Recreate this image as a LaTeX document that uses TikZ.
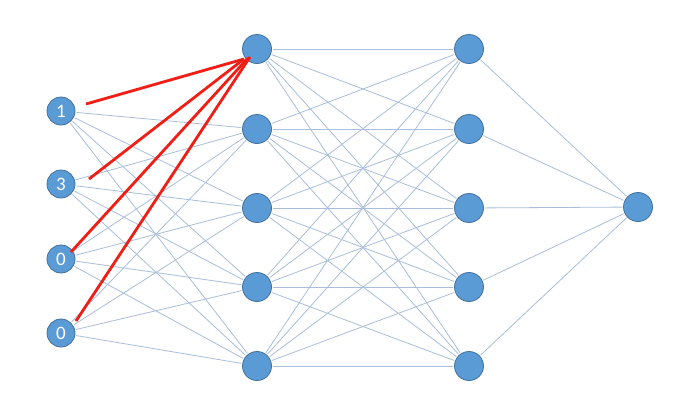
\documentclass[tikz,border=0pt]{standalone}
\usepackage{fontspec}
\setmainfont{Carlito}
\usetikzlibrary{calc}
\definecolor{nfill}{HTML}{5B9BD5}
\definecolor{nedge}{HTML}{41719C}
\definecolor{edgec}{HTML}{A9BEDB}
\definecolor{redc}{HTML}{F01E14}
\begin{document}
\begin{tikzpicture}[x=1pt,y=-1pt,
  neuron/.style={circle,fill=nfill,draw=nedge,line width=0.8pt,minimum size=29pt,inner sep=0pt,text=white,font=\fontsize{19}{19}\selectfont},
  inneuron/.style={neuron,minimum size=28pt},
  conn/.style={draw=edgec,line width=0.8pt,shorten >=1pt,shorten <=1pt},
  hot/.style={draw=redc,line width=2.8pt}]
\useasboundingbox[fill=white] (0,0) rectangle (678,408);
\node[inneuron] (i1) at (61,111) {1};
\node[inneuron] (i2) at (61,184) {3};
\node[inneuron] (i3) at (61,259) {0};
\node[inneuron] (i4) at (61,333) {0};
\foreach \k/\y in {1/49,2/129,3/208,4/287,5/366}{
  \node[neuron] (a\k) at (257,\y) {};
  \node[neuron] (b\k) at (469,\y) {};
}
\node[neuron] (o) at (638,207) {};
\foreach \i in {1,...,4}{\foreach \k in {2,...,5}{\path[conn] (i\i) -- (a\k);}}
\foreach \i in {1,...,5}{\foreach \k in {1,...,5}{\path[conn] (a\i) -- (b\k);}}
\foreach \k in {1,...,5}{\path[conn] (b\k) -- (o);}
\coordinate (s1) at ($(i1)+(25,-7)$);
\coordinate (s2) at ($(i2)+(28,-5)$);
\coordinate (s3) at ($(i3)+(10,-7)$);
\coordinate (s4) at ($(i4)+(15,-12)$);
\coordinate (e1) at ($(a1)+(-13,10)$);
\coordinate (e2) at ($(a1)+(-13,10)$);
\coordinate (e3) at ($(a1)+(-9,9)$);
\coordinate (e4) at ($(a1)+(-7,8)$);
\foreach \j in {1,...,4}{\path[hot] (s\j) -- (e\j);}
\end{tikzpicture}
\end{document}
